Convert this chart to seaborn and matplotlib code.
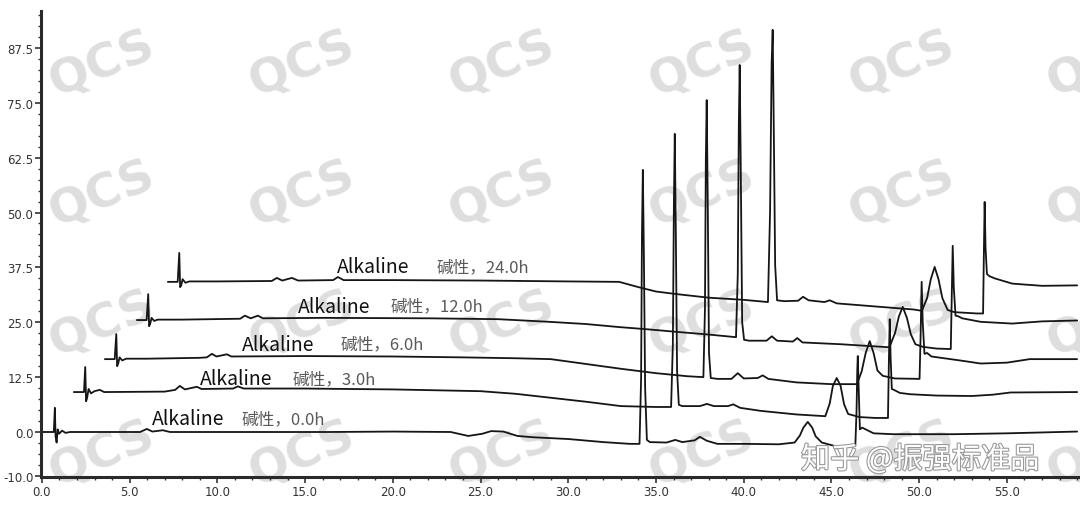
import numpy as np
import pandas as pd
import matplotlib
matplotlib.use("Agg")
import matplotlib.pyplot as plt
import matplotlib.patheffects as pe
from matplotlib.ticker import MultipleLocator, FixedLocator, FormatStrFormatter
import seaborn as sns

# stacked HPLC traces (retention time in min, signal as drawn)
hours = ["0.0h", "3.0h", "6.0h", "12.0h", "24.0h"]

time_0h = [0.00, 0.68, 0.74, 0.78, 0.84, 0.90, 0.98, 1.15, 1.35, 1.60,
           5.60, 5.98, 6.30, 6.89, 7.30, 12.0, 16.4, 20.0, 23.3, 24.3,
           25.1, 25.6, 26.3, 27.1, 28.0, 30.0, 32.0, 33.5, 34.06, 34.15,
           34.20, 34.25, 34.31, 34.38, 34.48, 34.65, 35.6, 36.1, 36.5, 37.2,
           37.5, 37.9, 38.5, 40.0, 42.0, 42.9, 43.2, 43.4, 43.65, 43.9,
           44.1, 44.45, 45.2, 46.0, 46.36, 46.43, 46.47, 46.50, 46.55, 46.62,
           46.75, 46.95, 47.4, 48.5, 52.0, 55.0, 59.0]
signal_0h = [0.0, 0.0, 5.5, -1.0, -2.4, 0.6, -0.4, 0.3, -0.2, 0.0,
             0.0, 0.7, 0.1, 0.4, 0.0, 0.0, 0.0, 0.1, 0.0, -0.9,
             -0.4, 0.2, 0.1, -0.9, -1.2, -1.6, -2.3, -2.7, -2.7, 12.0,
             45.0, 59.7, 40.0, 10.0, -1.8, -2.3, -2.4, -1.8, -2.3, -1.9,
             -1.1, -2.0, -2.7, -2.7, -2.8, -2.4, -0.8, 1.0, 2.3, 1.0,
             -1.0, -2.4, -3.2, -3.3, -3.1, 5.0, 14.0, 17.3, 10.0, 0.6,
             1.0, 0.6, -0.3, -0.5, -0.5, -0.3, 0.1]

time_3h = [1.82, 2.40, 2.47, 2.52, 2.58, 2.66, 2.80, 3.00, 3.30, 3.55,
           7.00, 7.60, 7.86, 8.15, 8.83, 9.10, 10.9, 11.17, 11.5, 15.0,
           20.0, 25.0, 27.0, 29.0, 31.0, 33.0, 35.0, 35.86, 35.96, 36.02,
           36.07, 36.13, 36.20, 36.30, 36.50, 37.5, 37.9, 38.3, 39.1, 39.4,
           39.8, 41.0, 43.0, 44.65, 44.9, 45.08, 45.30, 45.52, 45.72, 45.95,
           46.6, 47.5, 48.22, 48.28, 48.32, 48.37, 48.44, 48.56, 48.9, 49.5,
           51.0, 53.0, 54.2, 55.2, 59.0]
signal_3h = [9.1, 9.1, 14.8, 7.0, 7.8, 9.8, 8.8, 9.3, 9.6, 9.1,
             9.2, 9.6, 10.5, 9.7, 10.3, 9.8, 9.9, 10.4, 9.9, 9.9,
             9.7, 9.3, 8.7, 7.8, 6.9, 5.9, 5.7, 5.7, 20.0, 52.0,
             67.9, 45.0, 14.0, 6.2, 5.9, 5.9, 6.4, 5.9, 5.9, 6.3,
             5.5, 4.8, 4.0, 3.6, 6.5, 10.5, 12.3, 10.5, 6.3, 4.1,
             3.4, 3.2, 3.2, 18.0, 25.7, 17.0, 9.8, 9.6, 8.9, 8.6,
             8.3, 8.2, 8.5, 9.0, 9.1]

time_6h = [3.59, 4.15, 4.24, 4.29, 4.35, 4.43, 4.58, 4.80, 6.0, 9.0,
           9.4, 9.69, 9.95, 10.54, 10.8, 15.0, 20.0, 24.0, 27.0, 29.0,
           31.0, 33.0, 35.0, 36.8, 37.70, 37.79, 37.84, 37.89, 37.95, 38.02,
           38.12, 38.5, 39.3, 39.66, 40.0, 40.8, 41.08, 41.4, 43.0, 45.0,
           46.45, 46.72, 46.95, 47.18, 47.40, 47.62, 47.92, 48.6, 50.02, 50.08,
           50.14, 50.20, 50.30, 50.45, 50.7, 52.5, 53.5, 55.0, 56.3, 59.0]
signal_6h = [16.6, 16.6, 22.3, 15.0, 15.6, 17.0, 16.3, 16.7, 16.7, 16.9,
             17.0, 17.8, 17.2, 17.7, 17.2, 17.3, 17.2, 17.0, 16.8, 16.6,
             15.5, 14.4, 13.4, 12.7, 12.5, 28.0, 62.0, 75.6, 52.0, 18.0,
             12.3, 12.1, 12.1, 13.4, 12.2, 12.3, 12.9, 12.1, 11.3, 10.9,
             10.9, 13.8, 18.0, 20.7, 18.0, 14.0, 12.8, 12.2, 12.1, 22.0,
             34.2, 25.0, 17.8, 18.0, 17.2, 16.2, 15.6, 15.8, 16.6, 16.6]

time_12h = [5.41, 5.97, 6.06, 6.11, 6.17, 6.25, 6.40, 6.60, 8.0, 11.3,
            11.57, 11.9, 12.31, 12.6, 16.0, 22.0, 26.0, 28.9, 31.0, 32.9,
            34.5, 36.2, 38.0, 39.56, 39.66, 39.72, 39.77, 39.83, 39.91, 40.02,
            40.3, 41.3, 41.6, 41.9, 42.8, 43.05, 43.35, 45.5, 48.3, 48.62,
            48.84, 49.06, 49.30, 49.52, 49.78, 50.2, 51.0, 51.80, 51.86, 51.91,
            51.97, 52.07, 52.2, 52.45, 53.5, 55.3, 57.0, 59.0]
signal_12h = [25.5, 25.5, 31.4, 24.1, 24.6, 26.0, 25.3, 25.6, 25.6, 25.8,
              26.5, 25.9, 26.5, 25.9, 26.0, 25.9, 25.7, 25.1, 24.6, 23.9,
              23.4, 22.8, 22.2, 21.6, 36.0, 70.0, 83.6, 60.0, 25.0, 21.0,
              20.8, 20.8, 21.8, 20.8, 20.6, 21.4, 20.4, 20.0, 19.3, 22.5,
              26.3, 28.5, 26.0, 22.3, 20.0, 19.4, 19.0, 18.9, 32.0, 42.4,
              33.0, 26.5, 26.4, 25.9, 25.1, 24.7, 25.2, 25.4]

time_24h = [7.18, 7.74, 7.83, 7.88, 7.94, 8.02, 8.18, 8.40, 10.0, 13.1,
            13.39, 13.7, 14.25, 14.6, 16.6, 16.87, 17.2, 20.0, 25.0, 30.0,
            32.9, 34.0, 35.0, 36.2, 38.0, 40.0, 41.38, 41.50, 41.59, 41.65,
            41.71, 41.79, 41.90, 42.3, 43.1, 43.38, 43.7, 44.6, 44.9, 45.3,
            47.8, 49.7, 50.15, 50.45, 50.66, 50.88, 51.10, 51.32, 51.62, 52.0,
            53.3, 53.64, 53.69, 53.73, 53.78, 53.86, 54.0, 54.3, 55.3, 57.0,
            59.0]
signal_24h = [34.2, 34.2, 40.8, 33.0, 33.4, 34.8, 34.0, 34.3, 34.3, 34.4,
              35.1, 34.5, 35.1, 34.5, 34.6, 35.3, 34.6, 34.6, 34.5, 34.3,
              34.2, 33.0, 32.0, 31.4, 30.6, 30.1, 29.6, 50.0, 84.0, 91.6,
              70.0, 38.0, 30.0, 29.8, 29.9, 30.8, 30.0, 29.6, 30.0, 29.3,
              28.5, 27.9, 27.6, 30.5, 34.8, 37.6, 34.8, 30.5, 27.8, 27.3,
              27.0, 27.0, 42.0, 52.4, 42.0, 36.0, 35.5, 35.0, 33.8, 33.3,
              33.4]

y_ticks = [-10.0, 0.0, 12.5, 25.0, 37.5, 50.0, 62.5, 75.0, 87.5]

# label anchors (data units): english word, chinese part, vertical centre
LBL_X_EN = [6.27, 9.00, 11.40, 14.59, 16.81]
LBL_X_CN = [11.40, 14.30, 17.04, 19.89, 22.51]
LBL_Y = [3.0, 12.1, 20.0, 28.7, 37.6]

traces = [(time_0h, signal_0h), (time_3h, signal_3h), (time_6h, signal_6h),
          (time_12h, signal_12h), (time_24h, signal_24h)]
df = pd.concat([pd.DataFrame({"time": t, "signal": s, "sample": h})
                for h, (t, s) in zip(hours, traces)], ignore_index=True)

sns.set_theme(style="white")
plt.rcParams['font.family'] = ['DejaVu Sans']

W, H = 1080, 506
fig = plt.figure(figsize=(W / 100, H / 100), dpi=100)
ax = fig.add_axes([41 / W, 1 - 478 / H, 1037 / W, 466 / H])

# faint QCS watermark grid
for wy in [65, 195, 325, 455]:
    for wx in [102, 302, 502, 702, 902, 1100]:
        ax.text(wx / W, 1 - wy / H, "QCS", transform=fig.transFigure,
                fontsize=34, fontweight="bold", color="#dedede", rotation=22,
                ha="center", va="center", zorder=0.5, clip_on=False)

sns.lineplot(data=df, x="time", y="signal", units="sample", estimator=None,
             sort=False, color="#151515", linewidth=1.3, ax=ax, legend=False)

for i, h in enumerate(hours):
    ax.text(LBL_X_EN[i], LBL_Y[i], "Alkaline", fontsize=14, color="#111111",
            family=["Noto Sans CJK SC", "DejaVu Sans"], ha="left", va="center", zorder=5)
    ax.text(LBL_X_CN[i], LBL_Y[i], "碱性，" + h, fontsize=12, color="#5a5a5a",
            family=["Noto Sans CJK SC", "DejaVu Sans"], ha="left", va="center", zorder=5)

ax.set_xlim(-0.05, 59.05)
ax.set_ylim(-10.25, 95.9)
ax.xaxis.set_major_locator(MultipleLocator(5))
ax.xaxis.set_minor_locator(MultipleLocator(1))
ax.yaxis.set_major_locator(FixedLocator(y_ticks))
ax.yaxis.set_minor_locator(MultipleLocator(2.5))
ax.xaxis.set_major_formatter(FormatStrFormatter("%.1f"))
ax.yaxis.set_major_formatter(FormatStrFormatter("%.1f"))
ax.set_xlabel("")
ax.set_ylabel("")

for side in ["top", "right"]:
    ax.spines[side].set_visible(False)
for side in ["left", "bottom"]:
    ax.spines[side].set_linewidth(2.2)
    ax.spines[side].set_color("#2a2a2a")

ax.tick_params(which="major", direction="out", length=4, width=1.2, color="#333333",
               labelsize=8.5, labelcolor="#333333", pad=1.5, left=True, bottom=True)
ax.tick_params(which="minor", direction="out", length=2.5, width=1.0, color="#333333",
               left=True, bottom=True)
ax.tick_params(axis="both", labelfontfamily="Liberation Sans Narrow")

# platform watermark bottom right
ax.text(920 / W, 1 - 461 / H, "知乎 @振强标准品", transform=fig.transFigure,
        fontsize=21, color="white", family=["Noto Sans CJK SC", "DejaVu Sans"],
        ha="center", va="center", zorder=10, clip_on=False,
        path_effects=[pe.withStroke(linewidth=1.6, foreground="#9a9a9a")])

fig.savefig("out.png", dpi=100)
